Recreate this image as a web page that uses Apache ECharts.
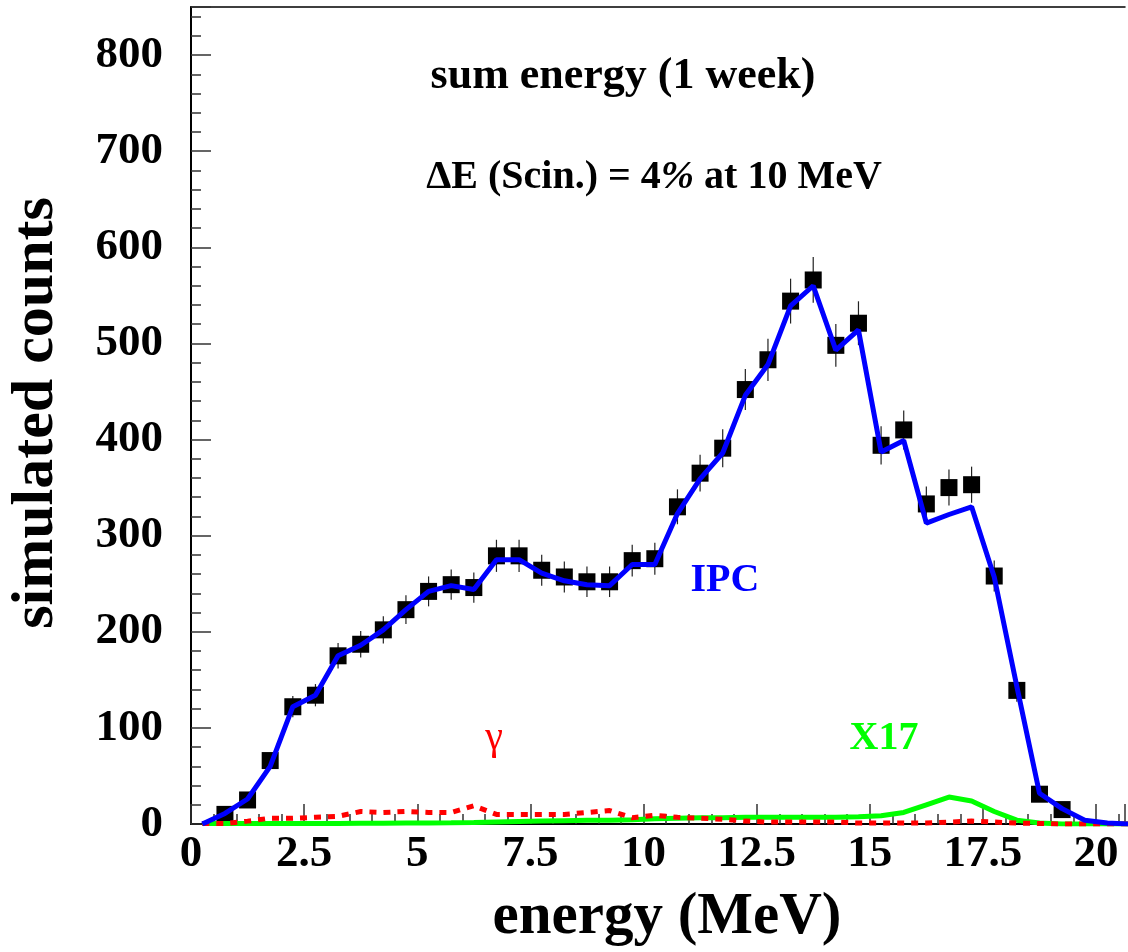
<!DOCTYPE html>
<html>
<head>
<meta charset="utf-8">
<script src="https://cdn.jsdelivr.net/npm/echarts@6/dist/echarts.min.js"></script>
<style>
  html, body { margin: 0; padding: 0; background: #fff; }
  #chart { width: 1128px; height: 952px; }
</style>
</head>
<body>
<div id="chart"></div>
<script>
// Bin centres (MeV) of the model curves, 0.5 MeV bins
const curveEnergies = [0.25, 0.75, 1.25, 1.75, 2.25, 2.75, 3.25, 3.75, 4.25, 4.75,
  5.25, 5.75, 6.25, 6.75, 7.25, 7.75, 8.25, 8.75, 9.25, 9.75,
  10.25, 10.75, 11.25, 11.75, 12.25, 12.75, 13.25, 13.75, 14.25, 14.75,
  15.25, 15.75, 16.25, 16.75, 17.25, 17.75, 18.25, 18.75, 19.25, 19.75,
  20.25, 20.75];

// IPC model
const ipcCurve = [0, 11, 26, 60, 122, 134, 175, 186, 202, 223,
  242, 248, 244, 275, 275, 261, 253, 249, 248, 270,
  270, 323, 359, 386, 446, 478, 539, 560, 493, 514,
  387, 399, 313, 322, 330, 257, 143, 32, 16, 4,
  1, 0];

// gamma background
const gammaCurve = [0.5, 0.5, 3, 6, 6, 7, 8, 13, 12, 13,
  12, 12, 19, 10, 10, 10, 10, 12, 14, 6.5,
  9, 7, 6, 5, 3, 2, 2, 2, 2, 1,
  1, 1, 1, 2, 3, 2, 1, 0.5, 0, 0,
  0, 0];

// X17 signal
const x17Curve = [0.5, 0.5, 0.5, 0.5, 0.5, 0.5, 0.5, 0.7, 0.8, 1,
  1, 1.2, 1.5, 2, 2.5, 3, 3.5, 4, 4, 4.5,
  5.5, 6, 6.5, 6.5, 7, 7, 7, 7, 7, 7.5,
  8.5, 12, 20, 28, 24, 13, 4, 1, 0, 0,
  0, 0];

// Simulated counts per bin
const pointEnergies = [0.75, 1.25, 1.75, 2.25, 2.75, 3.25, 3.75, 4.25, 4.75, 5.25,
  5.75, 6.25, 6.75, 7.25, 7.75, 8.25, 8.75, 9.25, 9.75, 10.25,
  10.75, 11.25, 11.75, 12.25, 12.75, 13.25, 13.75, 14.25, 14.75, 15.25,
  15.75, 16.25, 16.75, 17.25, 17.75, 18.25, 18.75, 19.25];
const pointCounts = [10, 25, 66, 122, 134, 175, 187, 202, 223, 242,
  249, 246, 279, 279, 264, 257, 252, 252, 274, 276,
  330, 365, 391, 452, 483, 544, 566, 498, 521, 394,
  410, 333, 350, 353, 258, 139, 31, 15];

// Axis tick values
const xTickStep = 2.5;
const xMinorStep = 0.5;
const yTickStep = 100;
const yMinorStep = 20;
const xMax = 20.64;
const yMax = 850;

const serif = '"Liberation Serif", "Times New Roman", serif';

const pairs = (xs, ys) => xs.map((x, i) => [x, ys[i]]);
const points = pairs(pointEnergies, pointCounts);
const errorBars = points.map(([x, y]) => [x, y, Math.sqrt(y)]);

const chart = echarts.init(document.getElementById('chart'), null, { renderer: 'canvas' });

const onStep = (v, step) => Math.abs(v / step - Math.round(v / step)) < 1e-6;

chart.setOption({
  animation: false,
  backgroundColor: '#ffffff',
  grid: { left: 191, right: 0, top: 7, bottom: 128, containLabel: false },
  xAxis: [
    {
      type: 'value', min: 0, max: xMax, interval: xTickStep, position: 'bottom',
      axisLine: { show: true, lineStyle: { color: '#000', width: 2 } },
      axisTick: { show: true, inside: true, length: 20, lineStyle: { color: '#333', width: 1.5 } },
      axisLabel: {
        show: true, margin: 8, color: '#000', fontFamily: serif, fontWeight: 'bold', fontSize: 45,
        formatter: v => onStep(v, xTickStep) ? String(v) : ''
      },
      splitLine: { show: false }
    },
    {
      type: 'value', min: 0, max: xMax, interval: xMinorStep, position: 'bottom',
      axisLine: { show: false },
      axisTick: { show: true, inside: true, length: 10, lineStyle: { color: '#333', width: 1.5 } },
      axisLabel: { show: false },
      splitLine: { show: false }
    },
    {
      type: 'value', min: 0, max: xMax, position: 'top',
      axisLine: { show: true, lineStyle: { color: '#000', width: 1.5 } },
      axisTick: { show: false }, axisLabel: { show: false }, splitLine: { show: false }
    }
  ],
  yAxis: [
    {
      type: 'value', min: 0, max: yMax, interval: yTickStep, position: 'left',
      axisLine: { show: true, lineStyle: { color: '#000', width: 2 } },
      axisTick: { show: true, inside: true, length: 20, lineStyle: { color: '#333', width: 1.5 } },
      axisLabel: {
        show: true, margin: 28, color: '#000', fontFamily: serif, fontWeight: 'bold', fontSize: 45,
        formatter: v => onStep(v, yTickStep) ? String(v) : ''
      },
      splitLine: { show: false }
    },
    {
      type: 'value', min: 0, max: yMax, interval: yMinorStep, position: 'left',
      axisLine: { show: false },
      axisTick: { show: true, inside: true, length: 10, lineStyle: { color: '#333', width: 1.5 } },
      axisLabel: { show: false },
      splitLine: { show: false }
    }
  ],
  series: [
    {
      name: 'errors', type: 'custom', xAxisIndex: 0, yAxisIndex: 0, z: 2,
      data: errorBars,
      renderItem: (params, api) => {
        const x = api.value(0), y = api.value(1), e = api.value(2);
        const p1 = api.coord([x, y - e]);
        const p2 = api.coord([x, y + e]);
        return {
          type: 'line',
          shape: { x1: p1[0], y1: p1[1], x2: p2[0], y2: p2[1] },
          style: { stroke: '#222', lineWidth: 1.2 }
        };
      }
    },
    {
      name: 'simulated counts', type: 'scatter', xAxisIndex: 0, yAxisIndex: 0, z: 3,
      symbol: 'rect', symbolSize: 17,
      itemStyle: { color: '#000', opacity: 1 },
      data: points
    },
    {
      name: 'X17', type: 'line', xAxisIndex: 0, yAxisIndex: 0, z: 4,
      showSymbol: false, symbol: 'none',
      lineStyle: { color: '#00ff00', width: 5 },
      data: pairs(curveEnergies, x17Curve)
    },
    {
      name: 'gamma', type: 'line', xAxisIndex: 0, yAxisIndex: 0, z: 5,
      showSymbol: false, symbol: 'none',
      lineStyle: { color: '#ff0000', width: 5, type: [7, 7] },
      data: pairs(curveEnergies, gammaCurve)
    },
    {
      name: 'IPC', type: 'line', xAxisIndex: 0, yAxisIndex: 0, z: 6,
      showSymbol: false, symbol: 'none',
      lineStyle: { color: '#0000ff', width: 5 },
      data: pairs(curveEnergies, ipcCurve)
    }
  ],
  graphic: [
    {
      type: 'text', x: 623, y: 77, z: 10,
      style: { text: 'sum energy (1 week)', font: 'bold 44px ' + serif, fill: '#000', align: 'center', verticalAlign: 'middle' }
    },
    {
      type: 'text', x: 654, y: 178, z: 10,
      style: {
        text: '\u0394E (Scin.) = 4{p|%} at 10 MeV',
        rich: { p: { font: 'italic bold 40px ' + serif, fill: '#000' } },
        font: 'bold 40px ' + serif, fill: '#000', align: 'center', verticalAlign: 'middle'
      }
    },
    {
      type: 'text', x: 725, y: 581, z: 10,
      style: { text: 'IPC', font: 'bold 40px ' + serif, fill: '#0000ff', align: 'center', verticalAlign: 'middle' }
    },
    {
      type: 'text', x: 884, y: 739, z: 10,
      style: { text: 'X17', font: 'bold 40px ' + serif, fill: '#00ff00', align: 'center', verticalAlign: 'middle' }
    },
    {
      type: 'text', x: 494, y: 738, z: 10,
      style: { text: '\u03B3', font: '40px ' + serif, fill: '#ff0000', align: 'center', verticalAlign: 'middle' }
    },
    {
      type: 'text', x: 667, y: 918, z: 10,
      style: { text: 'energy (MeV)', font: 'bold 59px ' + serif, fill: '#000', align: 'center', verticalAlign: 'middle' }
    },
    {
      type: 'text', x: 36, y: 413, rotation: Math.PI / 2, z: 10,
      style: { text: 'simulated counts', font: 'bold 60px ' + serif, fill: '#000', align: 'center', verticalAlign: 'middle' }
    }
  ]
});
</script>
</body>
</html>
